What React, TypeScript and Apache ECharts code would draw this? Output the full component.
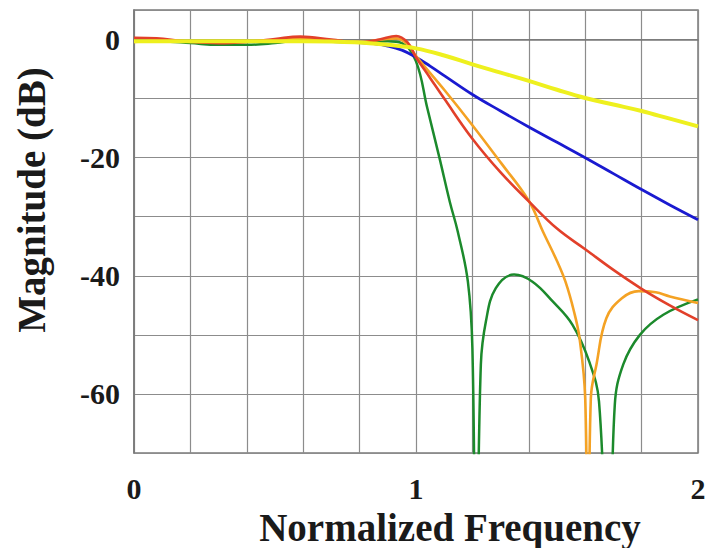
import React, { useEffect, useRef } from "react";
import * as echarts from "echarts";

// Tick settings / labels
const xTickLabels = ["0", "1", "2"];
const yTickLabels = ["0", "-20", "-40", "-60"];

// Yellow response
const yellowX = [0, 0.2, 0.4, 0.6, 0.7, 0.8, 0.9, 1.0, 1.1, 1.2, 1.3, 1.4, 1.5, 1.6, 1.7, 1.8, 1.9, 2.0];
const yellowY = [-0.3, -0.3, -0.3, -0.3, -0.35, -0.5, -0.9, -1.5, -2.7, -4.2, -5.6, -7.0, -8.5, -9.9, -11.0, -12.1, -13.4, -14.7];

// Blue response
const blueX = [0, 0.2, 0.4, 0.6, 0.7, 0.8, 0.85, 0.9, 0.95, 1.0, 1.05, 1.1, 1.2, 1.3, 1.4, 1.5, 1.6, 1.7, 1.8, 1.9, 2.0];
const blueY = [-0.3, -0.3, -0.3, -0.3, -0.35, -0.5, -0.7, -1.1, -1.8, -3.0, -4.5, -6.1, -9.3, -12.1, -14.8, -17.4, -20.0, -22.7, -25.4, -28.0, -30.5];

// Red response
const redX = [0, 0.08, 0.18, 0.3, 0.42, 0.5, 0.59, 0.7, 0.8, 0.87, 0.93, 0.97, 1.0, 1.05, 1.1, 1.2, 1.3, 1.4, 1.5, 1.6, 1.7, 1.8, 1.9, 2.0];
const redY = [0.3, 0.2, -0.3, -0.6, -0.3, 0.1, 0.5, 0, -0.5, 0, 0.6, -0.5, -3.0, -6.5, -10, -16.8, -22.5, -27.4, -32, -35.5, -39, -42.2, -45, -47.5];

// Orange response
const orangeX = [0, 0.1, 0.2, 0.3, 0.45, 0.59, 0.7, 0.8, 0.88, 0.93, 0.97, 1.0, 1.1, 1.2, 1.3, 1.4, 1.45, 1.5, 1.53, 1.56, 1.58, 1.6, 1.61, 1.62, 1.64, 1.675, 1.73, 1.79, 1.85, 1.9, 2.0];
const orangeY = [-0.4, -0.2, -0.4, -0.5, -0.3, 0.2, -0.2, -0.4, 0, 0.2, -0.8, -2.8, -8.5, -14.5, -20.8, -27.3, -32.5, -37.5, -41, -46, -50.6, -60.7, -95, -60.7, -55, -47.2, -43.8, -42.6, -42.8, -43.5, -44.6];

// Green response
const greenX = [0, 0.1, 0.2, 0.3, 0.4, 0.5, 0.6, 0.7, 0.8, 0.9, 0.95, 1.0, 1.04, 1.083, 1.12, 1.148, 1.184, 1.2, 1.213, 1.23, 1.248, 1.283, 1.348, 1.413, 1.484, 1.555, 1.614, 1.649, 1.683, 1.705, 1.735, 1.794, 1.877, 2.0];
const greenY = [-0.2, -0.3, -0.6, -0.9, -0.9, -0.6, -0.1, -0.2, -0.5, -0.3, -0.6, -3.7, -11.6, -20, -27.5, -32.5, -41, -52.3, -95, -55, -47.7, -42.1, -39.8, -41, -44.3, -48.3, -54.5, -61.3, -95, -61.8, -55, -50, -46.6, -44];

const pairs = (xs: number[], ys: number[]) => xs.map((x, i) => [x, ys[i]]);

const FONT = "'Liberation Serif', 'Times New Roman', serif";

export default function App() {
  const ref = useRef<HTMLDivElement>(null);
  useEffect(() => {
    if (!ref.current) return;
    const chart = echarts.init(ref.current, undefined, { renderer: "svg" });
    const mkLine = (name: string, xs: number[], ys: number[], color: string, width: number) => ({
      name,
      type: "line",
      data: pairs(xs, ys),
      showSymbol: false,
      symbol: "none",
      smooth: 0.4,
      clip: true,
      lineStyle: { color, width },
    });
    chart.setOption({
      animation: false,
      backgroundColor: "#ffffff",
      grid: {
        left: 134,
        right: 11,
        top: 10,
        bottom: 95,
        show: true,
        borderColor: "#7a7a7a",
        borderWidth: 1.5,
        backgroundColor: "transparent",
      },
      xAxis: {
        type: "value",
        min: 0,
        max: 2,
        interval: 0.2,
        axisLine: { show: true, lineStyle: { color: "#777", width: 1.5 } },
        axisTick: { show: false },
        splitLine: { show: true, lineStyle: { color: "#8c8c8c", width: 1.2 } },
        axisLabel: {
          margin: 20,
          color: "#1a1a1a",
          fontFamily: FONT,
          fontWeight: "bold",
          fontSize: 30,
          formatter: (v: number) => {
            const r = Math.round(v);
            if (Math.abs(v - r) < 1e-6) return xTickLabels[r] ?? "";
            return "";
          },
        },
      },
      yAxis: {
        type: "value",
        min: -70,
        max: 5,
        interval: 10,
        axisLine: { show: true, lineStyle: { color: "#777", width: 1.5 } },
        axisTick: { show: false },
        splitLine: { show: true, lineStyle: { color: "#8c8c8c", width: 1.2 } },
        axisLabel: {
          margin: 14,
          color: "#1a1a1a",
          fontFamily: FONT,
          fontWeight: "bold",
          fontSize: 30,
          formatter: (v: number) => {
            const r = Math.round(v);
            if (Math.abs(v - r) > 1e-6) return "";
            const idx = yTickLabels.indexOf(String(r));
            return idx >= 0 ? yTickLabels[idx] : "";
          },
        },
      },
      graphic: [
        {
          type: "text",
          x: 450,
          y: 527,
          style: {
            text: "Normalized Frequency",
            font: `bold 39px ${FONT}`,
            fill: "#1a1a1a",
            textAlign: "center",
            textVerticalAlign: "middle",
            align: "center",
            verticalAlign: "middle",
          },
        },
        {
          type: "text",
          x: 31,
          y: 200,
          rotation: Math.PI / 2,
          style: {
            text: "Magnitude (dB)",
            font: `bold 39px ${FONT}`,
            fill: "#1a1a1a",
            textAlign: "center",
            textVerticalAlign: "middle",
            align: "center",
            verticalAlign: "middle",
          },
        },
      ],
      series: [
        mkLine("green", greenX, greenY, "#1c8a2c", 2.5),
        mkLine("blue", blueX, blueY, "#1a1ad0", 2.8),
        mkLine("orange", orangeX, orangeY, "#f4a224", 2.6),
        mkLine("red", redX, redY, "#e2402a", 2.6),
        mkLine("yellow", yellowX, yellowY, "#eef01e", 4),
      ],
    });
    return () => chart.dispose();
  }, []);
  return (
    <div
      ref={ref}
      style={{ position: "fixed", left: 0, top: 0, width: 709, height: 548, background: "#fff" }}
    />
  );
}
